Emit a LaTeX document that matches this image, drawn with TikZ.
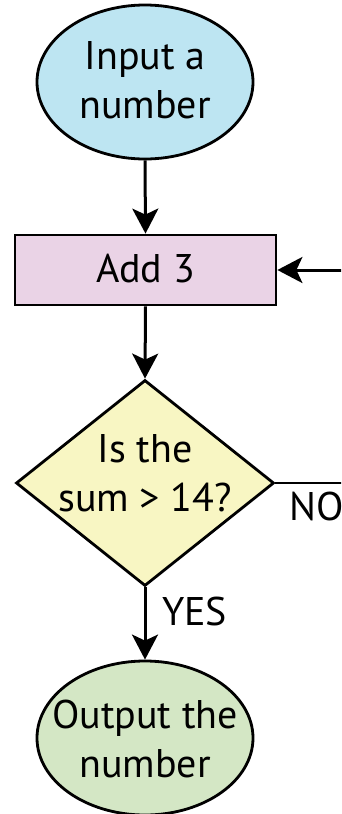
\documentclass[tikz,border=0pt]{standalone}
\usepackage{fontspec}
\setmainfont{PT Sans}
\usetikzlibrary{shapes.geometric,arrows.meta}
\definecolor{inblue}{HTML}{BDE5F2}
\definecolor{addpink}{HTML}{EAD3E6}
\definecolor{decyellow}{HTML}{F8F6C3}
\definecolor{outgreen}{HTML}{D4E7C5}
\tikzset{
  shapeline/.style={draw=black, line width=2.8pt},
  termshape/.style={shapeline, ellipse, minimum width=216pt, minimum height=154pt, inner sep=0pt},
  procshape/.style={shapeline, rectangle, minimum width=261pt, minimum height=70pt, inner sep=0pt},
  decshape/.style={shapeline, diamond, minimum width=258pt, minimum height=206pt, inner sep=0pt},
  txt/.style={inner sep=0pt, align=center, font=\fontsize{40}{49}\selectfont},
  conn/.style={line width=3pt, -{Stealth[length=25pt, width=26pt, inset=6pt]}},
  plainconn/.style={line width=2.2pt},
}
\begin{document}
\begin{tikzpicture}[x=1pt, y=-1pt]
\useasboundingbox (0,0) rectangle (341,814);
\clip (0,0) rectangle (341,814);
\node[termshape, fill=inblue] (in) at (145,82) {};
\node[txt] (intext) at (145,80.5) {Input a\\number};
\node[procshape, fill=addpink] (add) at (145.5,270) {};
\node[txt] (addtext) at (145.5,269) {Add 3};
\node[decshape, fill=decyellow] (dec) at (145,483) {};
\node[txt] (dectext) at (145,473.5) {Is the\\sum > 14?};
\node[termshape, fill=outgreen] (out) at (145,738) {};
\node[txt] (outtext) at (145,739) {Output the\\number};
\coordinate (noend) at (345,483);
\coordinate (backstart) at (345,270);
\draw[conn] (in.south) -- (add.north);
\draw[conn] (add.south) -- (dec.north);
\draw[conn] (dec.south) -- (out.north);
\draw[plainconn] (dec.east) -- (noend);
\draw[conn] (backstart) -- (add.east);
\node[txt, anchor=base west] (nolabel) at (289,520) {NO};
\node[txt, anchor=base west] (yeslabel) at (162,625) {YES};
\end{tikzpicture}
\end{document}
